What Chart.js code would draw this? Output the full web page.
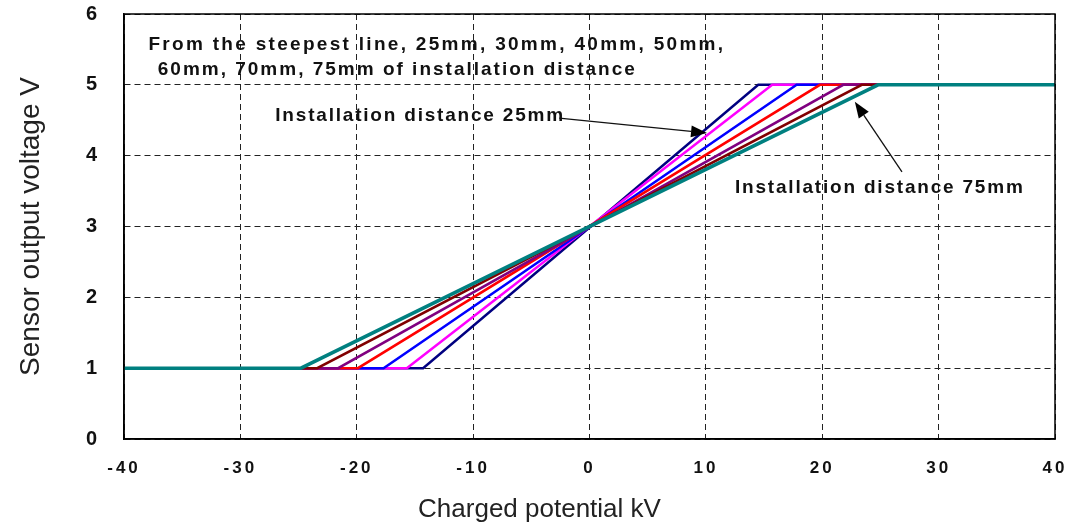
<!DOCTYPE html>
<html>
<head>
<meta charset="utf-8">
<script src="https://cdn.jsdelivr.net/npm/chart.js@4.4.1/dist/chart.umd.min.js"></script>
<style>
  html, body { margin: 0; padding: 0; background: #ffffff; }
  #wrap { width: 1065px; height: 525px; position: relative; }
</style>
</head>
<body>
<div id="wrap"><canvas id="c" width="1065" height="525"></canvas></div>
<script>
// ---- data ----
const seriesNames = ['25mm', '30mm', '40mm', '50mm', '60mm', '70mm', '75mm'];
const seriesColors = ['#000080', '#ff00ff', '#0000ff', '#ff0000', '#800080', '#800000', '#008080'];
// charged potential (kV) where each line leaves the 1 V floor and reaches the 5 V ceiling
const lowKneeX  = [-14.3, -15.7, -17.7, -19.9, -21.6, -23.4, -24.8];
const highKneeX = [14.5, 15.7, 17.8, 19.8, 21.8, 23.4, 24.8];
const floorV = 1;
const ceilV = 5;
const xMin = -40, xMax = 40;
const yMin = 0, yMax = 6;
const xTicks = [-40, -30, -20, -10, 0, 10, 20, 30, 40];
const yTicks = [0, 1, 2, 3, 4, 5, 6];

// annotations (data coordinates)
const noteLines = [
  { text: 'From the steepest line, 25mm, 30mm, 40mm, 50mm,', x: -37.9, y: 5.57, spacing: 2.3 },
  { text: '60mm, 70mm, 75mm of installation distance', x: -37.1, y: 5.21, spacing: 2.0 },
  { text: 'Installation distance 25mm', x: -27.0, y: 4.56, spacing: 1.8 },
  { text: 'Installation distance 75mm', x: 12.5, y: 3.54, spacing: 1.8 }
];
const arrows = [
  { from: [-2.6, 4.53], to: [10.1, 4.32] },
  { from: [26.85, 3.77], to: [22.8, 4.76] }
];

const datasets = seriesNames.map((name, i) => ({
  label: name,
  data: [
    { x: xMin, y: floorV },
    { x: lowKneeX[i], y: floorV },
    { x: highKneeX[i], y: ceilV },
    { x: xMax, y: ceilV }
  ],
  borderColor: seriesColors[i],
  backgroundColor: seriesColors[i],
  borderWidth: i === seriesNames.length - 1 ? 3.5 : 2.5,
  pointRadius: 0,
  tension: 0,
  fill: false,
  order: seriesNames.length - 1 - i
}));

const frameAndNotes = {
  id: 'frameAndNotes',
  beforeDraw(chart) {
    const xs = chart.scales.x;
    if (!xs._patched) {
      const ctx = chart.ctx;
      const origLabels = xs.drawLabels.bind(xs);
      xs.drawLabels = function (area) {
        ctx.save();
        try { ctx.letterSpacing = '3px'; } catch (e) {}
        origLabels(area);
        ctx.restore();
      };
      const origTitle = xs.drawTitle.bind(xs);
      xs.drawTitle = function () {
        ctx.save();
        ctx.translate(-50, 0);
        origTitle();
        ctx.restore();
      };
      xs._patched = true;
    }
  },
  afterDraw(chart) {
    const ctx = chart.ctx;
    const a = chart.chartArea;
    const xs = chart.scales.x, ys = chart.scales.y;
    ctx.save();
    ctx.strokeStyle = '#000';
    ctx.lineWidth = 1.5;
    ctx.setLineDash([]);
    ctx.strokeRect(a.left, a.top, a.right - a.left, a.bottom - a.top);

    // arrows
    ctx.strokeStyle = '#111';
    ctx.fillStyle = '#000';
    ctx.lineWidth = 1.3;
    arrows.forEach(ar => {
      const x1 = xs.getPixelForValue(ar.from[0]), y1 = ys.getPixelForValue(ar.from[1]);
      const x2 = xs.getPixelForValue(ar.to[0]), y2 = ys.getPixelForValue(ar.to[1]);
      const ang = Math.atan2(y2 - y1, x2 - x1);
      const hl = 16, hw = 6;
      const bx = x2 - hl * Math.cos(ang), by = y2 - hl * Math.sin(ang);
      ctx.beginPath();
      ctx.moveTo(x1, y1);
      ctx.lineTo(bx, by);
      ctx.stroke();
      ctx.beginPath();
      ctx.moveTo(x2, y2);
      ctx.lineTo(bx + hw * Math.sin(ang), by - hw * Math.cos(ang));
      ctx.lineTo(bx - hw * Math.sin(ang), by + hw * Math.cos(ang));
      ctx.closePath();
      ctx.fill();
    });

    // texts
    ctx.font = 'bold 19px "Liberation Sans", Arial, sans-serif';
    ctx.textAlign = 'left';
    ctx.textBaseline = 'middle';
    ctx.fillStyle = '#111';
    noteLines.forEach(n => {
      try { ctx.letterSpacing = n.spacing + 'px'; } catch (e) {}
      ctx.fillText(n.text, xs.getPixelForValue(n.x), ys.getPixelForValue(n.y));
    });
    ctx.restore();
  }
};

new Chart(document.getElementById('c'), {
  type: 'line',
  data: { datasets },
  options: {
    responsive: false,
    animation: false,
    events: [],
    layout: { padding: { left: 0, right: 10, top: 14, bottom: 0 } },
    plugins: {
      legend: { display: false },
      tooltip: { enabled: false }
    },
    scales: {
      x: {
        type: 'linear',
        min: xMin, max: xMax,
        afterBuildTicks(scale) { scale.ticks = xTicks.map(v => ({ value: v })); },
        afterFit(scale) {
          scale.height = 86;
          scale.paddingLeft = 0; scale.paddingRight = 0;
          scale.paddingTop = 0; scale.paddingBottom = 0;
        },
        grid: { color: '#222', lineWidth: 1, drawTicks: false },
        border: { display: true, color: '#000', width: 1.5, dash: [6, 4] },
        ticks: {
          color: '#111',
          padding: 19,
          maxRotation: 0,
          font: { family: '"Liberation Sans", Arial, sans-serif', size: 17, weight: 'bold' }
        },
        title: {
          display: true,
          text: 'Charged potential kV',
          color: '#222',
          padding: { top: 0, bottom: 0 },
          font: { family: '"Liberation Sans", Arial, sans-serif', size: 26, weight: 'normal' }
        }
      },
      y: {
        type: 'linear',
        min: yMin, max: yMax,
        afterBuildTicks(scale) { scale.ticks = yTicks.map(v => ({ value: v })); },
        afterFit(scale) {
          scale.width = 124;
          scale.paddingLeft = 0; scale.paddingRight = 0;
          scale.paddingTop = 0; scale.paddingBottom = 0;
        },
        grid: { color: '#222', lineWidth: 1, drawTicks: false },
        border: { display: true, color: '#000', width: 1.5, dash: [6, 4] },
        ticks: {
          color: '#111',
          padding: 27,
          font: { family: '"Liberation Sans", Arial, sans-serif', size: 20, weight: 'bold' }
        },
        title: {
          display: true,
          text: 'Sensor output voltage V',
          color: '#222',
          padding: { top: 14, bottom: 0 },
          font: { family: '"Liberation Sans", Arial, sans-serif', size: 28, weight: 'normal' }
        }
      }
    }
  },
  plugins: [frameAndNotes]
});
</script>
</body>
</html>
